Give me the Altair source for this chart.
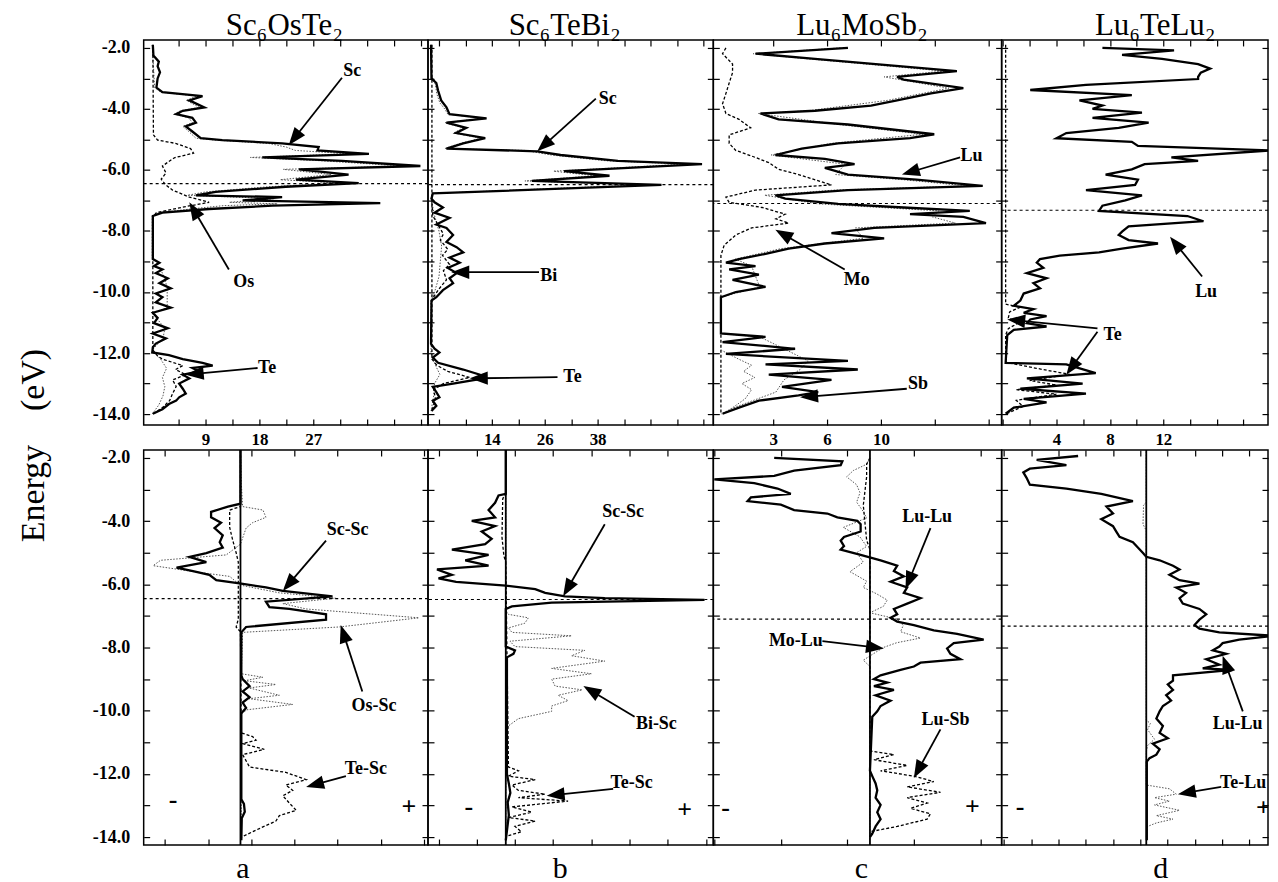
import math
import altair as alt
import pandas as pd

SERIF = "Liberation Serif"

# ---------------- layout / labels ----------------
TITLES = ["Sc\u2086OsTe\u2082", "Sc\u2086TeBi\u2082", "Lu\u2086MoSb\u2082", "Lu\u2086TeLu\u2082"]
TITLE_DX = [-1.5, -6, 4.5, 20.5]
LETTERS = ["a", "b", "c", "d"]
LETTER_X = [99, 132, 148, 159]
E_FERMI = [-6.45, -6.48, -7.10, -7.32]
ENERGY_TICKS = list(range(-14, -1))
TOP_Y_DOMAIN = [-14.36, -1.74]
BOT_Y_DOMAIN = [-14.25, -1.75]
PANEL_W = [285, 286, 289, 267]
TOP_H = 386
BOT_H = 396

TOP_X_DOMAIN = [[-1.33, 46.17], [-0.49, 64.26], [-0.37, 17.47], [-0.10, 19.83]]
TOP_X_TICKS = [[4.5, 9, 13.5, 18, 22.5, 27, 31.5, 36, 40.5, 45],
               [2, 8, 14, 20, 26, 32, 38, 44, 50, 56, 62],
               [3.33, 6.67, 10, 13.33, 16.67],
               [0, 2, 4, 6, 8, 10, 12, 14, 16, 18]]
TOP_X_LABELS = [[(9, "9"), (18, "18"), (27, "27")],
                [(14, "14"), (26, "26"), (38, "38")],
                [(3.33, "3"), (6.67, "6"), (10, "10")],
                [(4, "4"), (8, "8"), (12, "12")]]
BOT_X_DOMAIN = [[-2.24, 4.34], [-2.035, 5.43], [-2.355, 1.98], [-5.305, 4.465]]
BOT_X_TICKS = [[-1.75, -0.75, 0.25, 1.25, 2.25, 3.25, 4.25],
               [-1.76, -0.76, 0.24, 1.24, 2.24, 3.24, 4.24, 5.24],
               [-2.34, -1.34, -0.34, 0.66, 1.66],
               [-5.22, -4.22, -3.22, -2.22, -1.22, -0.22, 0.78, 1.78, 2.78, 3.78]]

# ---------------- DOS data (energy eV, DOS) ----------------
TOP_A_TOTAL = [(-1.90, 0.2), (-2.25, 0.3), (-2.45, 1.2), (-2.60, 1.0), (-2.80, 1.4), (-3.00, 1.0), (-3.30, 0.8),
               (-3.45, 1.8), (-3.58, 8.5), (-3.72, 6.3), (-3.95, 8.8), (-4.06, 5.2), (-4.17, 4.1), (-4.29, 6.8),
               (-4.45, 7.4), (-4.57, 5.7), (-4.74, 6.8), (-4.96, 8.2), (-5.02, 11.8), (-5.13, 21.8), (-5.25, 27.9),
               (-5.36, 27.7), (-5.47, 36.3), (-5.59, 18.5), (-5.70, 31.8), (-5.87, 44.9), (-5.98, 24.6),
               (-6.15, 32.9), (-6.32, 24.1), (-6.43, 34.6), (-6.55, 22.4), (-6.72, 10.7), (-6.83, 7.4),
               (-6.89, 21.8), (-7.00, 15.2), (-7.09, 38.2), (-7.17, 20.2), (-7.28, 9.6), (-7.40, 1.8), (-7.51, 0.2),
               (-8.85, 0.2), (-8.92, 0.2), (-9.04, 1.3), (-9.15, 0.4), (-9.26, 1.8), (-9.38, 0.7), (-9.55, 2.7),
               (-9.71, 1.3), (-9.88, 3.2), (-10.05, 0.7), (-10.17, 1.8), (-10.34, 0.7), (-10.51, 3.2),
               (-10.68, 0.2), (-10.85, 1.0), (-11.02, 0.4), (-11.19, 2.7), (-11.36, 0.2), (-11.52, 2.4),
               (-11.69, 0.7), (-11.81, 0.2), (-11.98, 0.1), (-12.07, 2.9), (-12.20, 5.2), (-12.32, 8.5),
               (-12.41, 10.2), (-12.49, 6.8), (-12.60, 7.9), (-12.71, 5.2), (-12.83, 6.3), (-13.00, 4.6),
               (-13.17, 5.2), (-13.33, 5.7), (-13.45, 4.6), (-13.56, 4.1), (-13.67, 2.9), (-13.84, 1.8),
               (-13.99, 0.2)]
TOP_A_SC = [(-1.90, 0.1), (-3.30, 0.5), (-3.45, 1.5), (-3.58, 7.5), (-3.72, 5.8), (-3.95, 8.0), (-4.06, 4.8),
            (-4.17, 3.8), (-4.29, 6.2), (-4.45, 6.8), (-4.57, 5.2), (-4.74, 6.2), (-4.96, 7.4), (-5.02, 10.5),
            (-5.13, 19.5), (-5.25, 22.5), (-5.36, 24.0), (-5.47, 33.0), (-5.59, 16.5), (-5.70, 28.5),
            (-5.87, 42.0), (-5.98, 22.0), (-6.15, 30.0), (-6.32, 21.5), (-6.43, 31.5), (-6.55, 19.5),
            (-6.72, 9.0), (-6.83, 6.0), (-6.94, 20.5), (-7.06, 13.0), (-7.11, 21.0), (-7.17, 12.0), (-7.28, 6.5),
            (-7.40, 1.2), (-7.51, 0.1), (-8.90, 0.1), (-9.04, 1.0), (-9.15, 0.3), (-9.26, 1.5), (-9.55, 2.2),
            (-9.88, 2.6), (-10.51, 2.6), (-10.68, 0.1), (-11.19, 2.2), (-11.52, 1.9), (-11.90, 0.1),
            (-12.20, 1.5), (-12.50, 2.5), (-12.80, 1.8), (-13.10, 2.2), (-13.40, 1.9), (-13.70, 1.2),
            (-14.00, 0.1)]
TOP_A_OS = [(-1.90, 0.2), (-4.85, 0.3), (-5.02, 1.0), (-5.13, 4.0), (-5.30, 6.5), (-5.45, 7.0), (-5.60, 3.8),
            (-5.87, 1.8), (-6.10, 2.4), (-6.30, 1.6), (-6.50, 2.4), (-6.66, 3.5), (-6.89, 6.3), (-7.06, 9.6),
            (-7.20, 5.7), (-7.40, 0.8), (-7.55, 0.2), (-11.90, 0.2)]
TOP_A_TE = [(-11.90, 0.2), (-12.10, 1.0), (-12.20, 1.8), (-12.41, 5.2), (-12.54, 4.0), (-12.71, 5.7),
            (-12.88, 3.5), (-13.10, 4.1), (-13.33, 3.5), (-13.56, 3.0), (-13.79, 1.8), (-14.00, 0.2)]

TOP_B_TOTAL = [(-1.90, 0.2), (-3.00, 0.3), (-3.15, 1.4), (-3.40, 1.8), (-3.72, 2.5), (-3.95, 3.7), (-4.17, 4.4),
               (-4.31, 12.8), (-4.45, 3.7), (-4.62, 8.2), (-4.79, 5.9), (-4.96, 12.5), (-5.13, 7.5), (-5.30, 3.7),
               (-5.39, 24.3), (-5.51, 29.6), (-5.70, 42.6), (-5.81, 61.7), (-6.04, 30.4), (-6.19, 40.7),
               (-6.36, 23.1), (-6.49, 52.5), (-6.77, 0.6), (-6.94, 0.3), (-7.06, 1.0), (-7.23, 2.9), (-7.40, 1.0),
               (-7.57, 4.4), (-7.79, 1.4), (-7.90, 3.7), (-8.13, 5.2), (-8.36, 3.7), (-8.53, 6.0), (-8.70, 7.5),
               (-8.87, 4.4), (-9.04, 6.7), (-9.21, 4.0), (-9.38, 6.0), (-9.55, 4.4), (-9.71, 5.2), (-9.94, 2.9),
               (-10.17, 1.4), (-10.28, 0.3), (-11.70, 0.2), (-11.86, 1.0), (-11.98, 2.1), (-12.15, 0.6),
               (-12.32, 1.8), (-12.54, 7.5), (-12.71, 11.3), (-12.83, 12.1), (-13.00, 5.2), (-13.11, 0.6),
               (-13.28, 1.4), (-13.45, 2.1), (-13.56, 0.6), (-13.73, 1.4), (-13.90, 0.3)]
TOP_B_SC = [(-1.90, 0.1), (-2.90, 0.3), (-3.20, 1.2), (-3.50, 1.5), (-3.80, 2.2), (-4.00, 3.3), (-4.17, 4.0),
            (-4.31, 11.8), (-4.45, 3.3), (-4.62, 7.5), (-4.79, 5.3), (-4.96, 11.5), (-5.13, 6.8), (-5.30, 3.3),
            (-5.36, 21.5), (-5.51, 27.5), (-5.70, 40.0), (-5.81, 58.0), (-6.04, 28.0), (-6.19, 37.5),
            (-6.36, 21.5), (-6.49, 48.0), (-6.77, 0.4), (-7.00, 0.3), (-7.50, 1.0), (-8.00, 2.0), (-8.50, 2.6),
            (-9.00, 2.3), (-9.50, 2.0), (-10.00, 1.0), (-10.30, 0.2), (-12.00, 0.2), (-12.40, 1.2),
            (-12.70, 2.2), (-13.00, 1.0), (-13.40, 0.8), (-13.90, 0.2)]
TOP_B_BI = [(-6.90, 0.3), (-7.50, 0.6), (-7.80, 1.8), (-8.10, 3.0), (-8.30, 2.3), (-8.60, 4.0), (-8.80, 2.8),
            (-9.10, 4.4), (-9.30, 3.0), (-9.60, 3.7), (-9.90, 2.0), (-10.20, 0.6), (-10.40, 0.2)]
TOP_B_TE = [(-1.90, 0.4), (-12.20, 0.4), (-12.40, 1.5), (-12.60, 4.0), (-12.80, 9.0), (-13.00, 3.0),
            (-13.20, 0.8), (-13.50, 1.2), (-13.90, 0.4)]

TOP_C_TOTAL = [(-2.00, 7.96), (-2.19, 2.24), (-2.36, 5.92), (-2.76, 14.7), (-2.95, 11.0), (-3.04, 11.4),
               (-3.32, 15.1), (-3.49, 13.1), (-3.72, 11.0), (-3.89, 9.39), (-4.06, 5.92), (-4.15, 2.55),
               (-4.34, 3.67), (-4.51, 7.96), (-4.83, 13.3), (-4.96, 11.8), (-5.13, 7.35), (-5.30, 5.10),
               (-5.51, 3.47), (-5.64, 6.53), (-5.81, 8.37), (-5.93, 6.53), (-6.15, 7.96), (-6.32, 12.2),
               (-6.52, 16.3), (-6.66, 7.96), (-6.83, 3.47), (-6.94, 4.08), (-7.11, 7.35), (-7.23, 11.4),
               (-7.34, 15.5), (-7.45, 11.8), (-7.54, 15.1), (-7.74, 16.5), (-7.90, 9.59), (-8.07, 6.94),
               (-8.24, 10.2), (-8.41, 6.53), (-8.58, 4.29), (-8.75, 2.86), (-8.92, 1.22), (-9.04, 0.41),
               (-9.15, 2.24), (-9.26, 0.61), (-9.43, 2.45), (-9.60, 0.82), (-9.83, 2.86), (-10.00, 1.02),
               (-10.17, 0.10), (-11.36, 0.10), (-11.47, 2.86), (-11.64, 0.20), (-11.86, 4.69), (-12.03, 0.41),
               (-12.26, 7.96), (-12.37, 2.86), (-12.54, 8.57), (-12.71, 3.06), (-12.88, 6.94), (-13.11, 3.88),
               (-13.28, 6.12), (-13.39, 4.90), (-13.56, 2.45), (-13.79, 1.22), (-13.99, 0.20)]
TOP_C_LU = [(-2.00, 7.5), (-2.19, 2.1), (-2.36, 5.5), (-2.76, 13.9), (-2.95, 10.2), (-3.32, 14.2), (-3.72, 10.4),
            (-4.06, 5.5), (-4.15, 2.4), (-4.51, 7.4), (-4.83, 12.6), (-5.13, 6.9), (-5.51, 3.2), (-5.81, 7.8),
            (-6.15, 7.2), (-6.32, 11.4), (-6.52, 15.3), (-6.66, 7.1), (-6.83, 2.8), (-7.11, 6.1), (-7.34, 13.6),
            (-7.54, 13.2), (-7.74, 14.6), (-7.90, 8.4), (-8.24, 8.9), (-8.58, 3.8), (-8.92, 1.0), (-9.15, 2.0),
            (-9.43, 2.2), (-9.83, 2.5), (-10.17, 0.1), (-11.36, 0.1), (-11.47, 2.5), (-11.86, 4.0),
            (-12.26, 5.5), (-12.54, 5.0), (-12.88, 4.0), (-13.28, 3.5), (-13.79, 0.9), (-14.00, 0.1)]
TOP_C_MO = [(-2.00, 0.41), (-2.19, 0.20), (-2.53, 0.82), (-2.81, 0.82), (-3.15, 0.61), (-3.49, 0.41),
            (-3.83, 0.20), (-4.15, 0.41), (-4.34, 1.22), (-4.62, 1.94), (-4.85, 0.61), (-5.13, 0.61),
            (-5.36, 1.02), (-5.59, 2.24), (-5.76, 3.06), (-5.98, 3.67), (-6.15, 4.90), (-6.49, 6.94),
            (-6.66, 2.24), (-6.89, 0.41), (-7.06, 0.61), (-7.23, 2.65), (-7.45, 4.08), (-7.60, 3.50),
            (-7.74, 4.29), (-7.90, 2.00), (-8.13, 1.02), (-8.47, 0.30), (-8.80, 0.10), (-14.00, 0.10)]
TOP_C_SB = [(-11.90, 0.1), (-12.20, 1.2), (-12.40, 2.0), (-12.60, 1.5), (-12.80, 2.2), (-13.00, 1.4),
            (-13.20, 2.0), (-13.50, 1.6), (-13.80, 0.8), (-14.00, 0.2)]

TOP_D_TOTAL = [(-2.00, 7.44), (-2.08, 12.8), (-2.23, 8.91), (-2.36, 11.9), (-2.53, 14.6), (-2.68, 15.5),
               (-2.81, 14.8), (-2.95, 14.6), (-3.02, 14.6), (-3.21, 6.21), (-3.38, 2.04), (-3.55, 9.64),
               (-3.72, 5.72), (-3.89, 7.44), (-4.00, 6.70), (-4.12, 10.4), (-4.29, 6.70), (-4.45, 10.9),
               (-4.62, 8.66), (-4.79, 4.74), (-4.96, 4.00), (-5.08, 9.64), (-5.21, 10.1), (-5.36, 20.0),
               (-5.59, 12.6), (-5.70, 14.6), (-5.81, 10.6), (-5.98, 9.64), (-6.15, 7.68), (-6.32, 10.1),
               (-6.49, 9.89), (-6.66, 6.21), (-6.83, 10.4), (-7.00, 9.15), (-7.17, 7.44), (-7.34, 7.19),
               (-7.51, 13.8), (-7.68, 15.0), (-7.85, 9.40), (-8.02, 8.91), (-8.13, 8.66), (-8.30, 9.40),
               (-8.41, 11.6), (-8.58, 8.91), (-8.70, 7.19), (-8.81, 4.25), (-8.92, 2.77), (-9.04, 2.53),
               (-9.21, 3.02), (-9.38, 1.79), (-9.55, 3.26), (-9.71, 2.28), (-9.88, 2.77), (-10.05, 1.55),
               (-10.28, 1.30), (-10.45, 0.81), (-10.56, 2.28), (-10.68, 1.55), (-10.79, 3.26), (-10.90, 2.04),
               (-11.02, 1.79), (-11.13, 3.26), (-11.24, 0.81), (-11.41, 0.32), (-12.32, 0.20), (-12.37, 4.74),
               (-12.66, 6.94), (-12.83, 1.79), (-13.00, 5.96), (-13.17, 1.30), (-13.33, 6.21), (-13.50, 1.55),
               (-13.62, 3.26), (-13.79, 0.81), (-13.99, 0.20)]
TOP_D_TE = [(-1.90, 0.2), (-10.40, 0.2), (-10.50, 1.3), (-10.65, 0.5), (-10.85, 0.4), (-11.00, 1.2),
            (-11.20, 0.4), (-11.40, 0.2), (-12.30, 0.2), (-12.50, 2.5), (-12.70, 5.0), (-12.90, 2.0),
            (-13.05, 4.0), (-13.20, 1.0), (-13.35, 4.0), (-13.55, 1.0), (-13.75, 1.5), (-14.00, 0.2)]

# ---------------- COHP data (energy eV, COHP) ----------------
BOT_A_SCSC = [(-1.75, 0.0), (-3.45, 0.0), (-3.54, -0.29), (-3.71, -0.68), (-3.88, -0.68), (-4.05, -0.45),
              (-4.22, -0.60), (-4.45, -0.41), (-4.67, -0.48), (-4.84, -0.41), (-5.01, -0.79), (-5.13, -1.18),
              (-5.30, -0.79), (-5.47, -1.48), (-5.58, -1.10), (-5.70, -0.72), (-5.87, -0.56), (-5.98, 0.02),
              (-6.10, 0.59), (-6.21, 0.98), (-6.38, 2.13), (-6.55, 0.59), (-6.72, 0.67), (-6.78, 1.13),
              (-6.95, 1.98), (-7.12, 1.98), (-7.35, 0.13), (-7.52, 0.02), (-8.88, 0.02), (-9.00, 0.05),
              (-9.22, 0.21), (-9.39, 0.05), (-9.57, 0.21), (-9.74, 0.05), (-9.91, 0.13), (-10.08, 0.02),
              (-12.80, 0.02), (-12.95, 0.08), (-13.20, 0.10), (-13.40, 0.03), (-14.10, 0.02)]
BOT_A_OSSC = [(-1.75, 0.0), (-2.80, 0.02), (-3.54, 0.05), (-3.65, 0.52), (-3.88, 0.59), (-4.05, 0.28),
              (-4.22, 0.13), (-4.73, 0.0), (-5.07, -0.33), (-5.24, -1.85), (-5.41, -2.02), (-5.58, -1.18),
              (-5.75, -0.25), (-5.92, -0.10), (-6.04, 0.05), (-6.27, 0.90), (-6.44, 2.20), (-6.61, 0.98),
              (-6.78, 1.52), (-7.06, 4.13), (-7.35, 2.28), (-7.52, 0.05), (-8.83, 0.02), (-8.94, 0.52),
              (-9.05, 0.10), (-9.17, 0.82), (-9.28, 0.20), (-9.51, 0.90), (-9.62, 0.20), (-9.80, 1.21),
              (-9.97, 0.15), (-10.10, 0.02), (-14.10, 0.02)]
BOT_A_TESC = [(-1.75, 0.0), (-3.54, 0.0), (-3.65, -0.25), (-4.20, -0.25), (-4.60, -0.18), (-5.00, -0.10),
              (-5.30, -0.05), (-7.10, -0.05), (-7.35, -0.10), (-7.50, 0.0), (-10.70, 0.02), (-10.82, 0.28),
              (-10.93, 0.36), (-11.04, 0.05), (-11.22, 0.55), (-11.39, 0.05), (-11.78, 0.21), (-11.95, 1.05),
              (-12.18, 1.52), (-12.35, 1.05), (-12.52, 1.21), (-12.69, 0.98), (-12.92, 1.13), (-13.15, 1.29),
              (-13.32, 0.90), (-13.49, 0.82), (-13.72, 0.45), (-14.00, 0.02)]

BOT_B_SCSC = [(-1.75, 0.0), (-3.14, 0.0), (-3.19, -0.19), (-3.42, -0.28), (-3.65, -0.45), (-3.88, -0.28),
              (-3.99, -0.89), (-4.16, -0.28), (-4.33, -0.63), (-4.56, -0.37), (-4.73, -0.54), (-4.90, -1.41),
              (-5.07, -0.45), (-5.24, -1.06), (-5.41, -0.45), (-5.53, -1.80), (-5.70, -1.41), (-5.81, -1.76),
              (-5.92, -1.30), (-6.04, 0.0), (-6.15, 0.77), (-6.27, 1.03), (-6.38, 1.55), (-6.44, 2.59),
              (-6.49, 5.20), (-6.58, 1.20), (-6.70, 0.16), (-6.78, 0.0), (-7.97, 0.0), (-8.09, 0.24),
              (-8.20, 0.20), (-8.31, 0.03), (-12.00, 0.03), (-12.30, 0.08), (-12.60, 0.12), (-12.90, 0.05),
              (-13.30, 0.08), (-14.10, 0.0)]
BOT_B_BISC = [(-1.75, 0.0), (-6.84, 0.0), (-6.95, 0.07), (-7.06, 0.59), (-7.23, 0.50), (-7.38, 0.07),
              (-7.52, 0.16), (-7.63, 1.72), (-7.80, 0.11), (-7.97, 0.24), (-8.09, 2.07), (-8.26, 1.72),
              (-8.43, 2.59), (-8.66, 1.20), (-8.83, 2.24), (-9.00, 1.20), (-9.22, 1.29), (-9.34, 2.00),
              (-9.51, 1.37), (-9.68, 1.63), (-9.85, 1.20), (-10.02, 1.20), (-10.25, 0.33), (-10.48, 0.07),
              (-10.70, 0.0), (-14.10, 0.0)]
BOT_B_TESC = [(-3.10, 0.0), (-3.30, -0.08), (-4.50, -0.10), (-5.10, -0.05), (-5.30, 0.0), (-11.78, 0.07),
              (-11.90, 0.33), (-12.07, 0.07), (-12.18, 0.77), (-12.35, 0.16), (-12.52, 0.33), (-12.64, 1.03),
              (-12.75, 0.33), (-12.86, 1.63), (-13.04, 0.16), (-13.21, 0.68), (-13.38, 0.07), (-13.49, 0.77),
              (-13.66, 0.24), (-13.83, 0.41), (-13.95, 0.07)]

BOT_C_LULU = [(-2.00, -1.44), (-2.11, -0.415), (-2.23, -0.44), (-2.40, -1.14), (-2.57, -1.44), (-2.68, -2.34),
              (-2.80, -1.74), (-2.97, -1.39), (-3.14, -1.19), (-3.25, -1.79), (-3.37, -1.84), (-3.48, -1.34),
              (-3.65, -1.14), (-3.76, -0.64), (-3.88, -0.49), (-3.99, -0.19), (-4.10, -0.14), (-4.33, -0.14),
              (-4.50, -0.39), (-4.62, -0.44), (-4.79, -0.39), (-4.90, -0.44), (-5.07, -0.14), (-5.24, 0.16),
              (-5.41, 0.41), (-5.58, 0.36), (-5.75, 0.51), (-5.92, 0.31), (-6.10, 0.56), (-6.27, 0.51),
              (-6.44, 0.76), (-6.61, 0.56), (-6.78, 0.36), (-6.95, 0.41), (-7.06, 0.31), (-7.18, 0.41),
              (-7.29, 0.66), (-7.46, 0.96), (-7.57, 1.31), (-7.75, 1.71), (-7.86, 1.26), (-8.03, 1.16),
              (-8.20, 1.21), (-8.37, 1.36), (-8.48, 0.76), (-8.60, 0.66), (-8.71, 0.46), (-8.88, 0.16),
              (-9.00, 0.06), (-9.11, 0.26), (-9.22, 0.06), (-9.34, 0.36), (-9.51, 0.085), (-9.68, 0.31),
              (-9.85, 0.16), (-10.02, 0.11), (-10.19, 0.035), (-11.90, 0.0), (-12.07, 0.035), (-12.30, 0.085),
              (-12.52, 0.11), (-12.75, 0.085), (-12.98, 0.16), (-13.21, 0.11), (-13.43, 0.16), (-13.66, 0.085),
              (-13.89, 0.035), (-14.00, 0.0)]
BOT_C_MOLU = [(-2.00, 0.0), (-2.20, -0.05), (-2.40, -0.25), (-2.60, -0.35), (-2.85, -0.20), (-3.10, -0.15),
              (-3.40, -0.20), (-3.70, -0.10), (-3.90, -0.05), (-4.20, -0.40), (-4.50, -0.15), (-4.80, -0.05),
              (-5.00, -0.20), (-5.30, -0.10), (-5.60, -0.30), (-5.90, -0.05), (-6.10, -0.10), (-6.30, 0.10),
              (-6.50, 0.26), (-6.70, 0.20), (-6.90, 0.0), (-7.10, 0.41), (-7.30, 0.50), (-7.50, 0.46),
              (-7.70, 0.76), (-7.85, 0.40), (-8.00, 0.20), (-8.20, 0.05), (-8.40, -0.10), (-8.60, 0.0),
              (-14.10, 0.0)]
BOT_C_LUSB = [(-2.00, 0.0), (-2.20, -0.05), (-2.60, -0.05), (-3.50, -0.10), (-4.60, -0.05), (-4.90, 0.0),
              (-11.27, 0.0), (-11.39, 0.36), (-11.55, 0.06), (-11.73, 0.56), (-11.90, 0.16), (-12.07, 0.66),
              (-12.24, 0.96), (-12.41, 0.56), (-12.58, 1.06), (-12.75, 0.56), (-12.92, 0.86), (-13.09, 0.61),
              (-13.26, 0.91), (-13.43, 0.86), (-13.66, 0.41), (-13.83, 0.0)]

BOT_D_LULU = [(-1.94, -2.50), (-2.06, -4.02), (-2.23, -2.93), (-2.34, -4.27), (-2.46, -4.51), (-2.63, -4.39),
              (-2.85, -4.27), (-2.97, -2.93), (-3.14, -1.65), (-3.37, -0.49), (-3.54, -1.46), (-3.76, -1.22),
              (-3.94, -1.65), (-4.16, -1.22), (-4.33, -1.10), (-4.50, -0.98), (-4.67, -0.49), (-4.90, -0.24),
              (-5.01, -0.12), (-5.13, 0.0), (-5.24, 0.49), (-5.41, 0.98), (-5.53, 1.22), (-5.70, 0.85),
              (-5.87, 1.22), (-5.98, 1.95), (-6.10, 1.10), (-6.27, 1.46), (-6.44, 1.22), (-6.61, 1.34),
              (-6.78, 1.95), (-6.95, 2.20), (-7.12, 1.95), (-7.29, 1.77), (-7.40, 1.95), (-7.52, 2.68),
              (-7.63, 4.68), (-7.75, 3.41), (-7.86, 2.80), (-7.97, 2.68), (-8.09, 2.44), (-8.20, 2.93),
              (-8.37, 2.20), (-8.54, 2.68), (-8.66, 2.07), (-8.71, 3.17), (-8.88, 0.98), (-9.05, 0.98),
              (-9.17, 0.79), (-9.34, 0.98), (-9.51, 0.73), (-9.68, 0.91), (-9.85, 0.61), (-10.02, 0.49),
              (-10.25, 0.37), (-10.48, 0.61), (-10.70, 0.49), (-10.87, 0.79), (-11.04, 0.24), (-11.22, 0.49),
              (-11.39, 0.37), (-11.50, 0.12), (-11.61, 0.02), (-14.10, 0.02)]
BOT_D_TELU = [(-1.80, 0.0), (-3.40, 0.0), (-3.50, -0.10), (-4.10, -0.12), (-4.30, 0.0), (-10.30, 0.0),
              (-10.40, 0.15), (-10.60, 0.05), (-10.90, 0.30), (-11.10, 0.05), (-11.30, 0.0), (-12.35, 0.0),
              (-12.47, 0.85), (-12.64, 1.10), (-12.75, 0.30), (-12.86, 0.85), (-12.98, 0.30), (-13.15, 1.22),
              (-13.32, 0.37), (-13.43, 0.98), (-13.55, 0.37), (-13.66, 0.05), (-14.00, 0.0)]

# ---------------- annotations (label, x, energy) and arrows (x0, E0, x1, E1) ----------------
TOP_LABELS = [[("Sc", 33.5, -2.76), ("Os", 15.4, -9.66), ("Te", 19.3, -12.49)],
              [("Sc", 40.3, -3.66), ("Bi", 26.9, -9.49), ("Te", 32.3, -12.77)],
              [("Lu", 15.6, -5.53), ("Mo", 8.5, -9.60), ("Sb", 12.3, -13.0)],
              [("Lu", 15.2, -10.0), ("Te", 8.2, -11.41)]]
TOP_ARROWS = [[(31.8, -2.98, 22.9, -5.19), (12.9, -9.26, 6.3, -7.06), (17.7, -12.49, 5.7, -12.71)],
              [(37.6, -3.66, 24.3, -5.39), (24.7, -9.35, 4.8, -9.35), (28.9, -12.79, 9.0, -12.83)],
              [(14.9, -5.59, 11.3, -6.15), (7.76, -9.26, 3.47, -7.96), (11.6, -13.17, 5.0, -13.45)],
              [(14.9, -9.49, 12.5, -8.19), (7.07, -11.19, 0.32, -10.90), (7.07, -11.30, 4.74, -12.71)]]
BOT_LABELS = [[("Sc-Sc", 2.48, -4.28), ("Os-Sc", 3.09, -9.85), ("Te-Sc", 2.90, -11.84)],
              [("Sc-Sc", 3.07, -3.71), ("Bi-Sc", 3.94, -10.42), ("Te-Sc", 3.29, -12.30)],
              [("Lu-Lu", 0.86, -3.88), ("Mo-Lu", -1.115, -7.80), ("Lu-Sb", 1.135, -10.30)],
              [("Lu-Lu", 3.35, -10.42), ("Te-Lu", 3.55, -12.30)]]
BOT_ARROWS = [[(1.98, -4.62, 0.98, -6.21), (2.82, -9.39, 2.32, -7.29), (2.44, -12.07, 1.52, -12.41)],
              [(2.59, -4.10, 1.50, -6.38), (3.37, -10.19, 2.03, -9.22), (2.81, -12.47, 1.07, -12.69)],
              [(0.91, -4.22, 0.535, -6.15), (-0.715, -7.80, 0.21, -8.03), (1.06, -10.59, 0.66, -12.13)],
              [(3.54, -10.02, 2.80, -8.26), (2.75, -12.41, 1.16, -12.64)]]
SIGNS = [[("-", -1.56, -12.81), ("+", 3.9, -13.04)],
         [("-", -0.97, -13.04), ("+", 4.68, -13.15)],
         [("-", -2.17, -13.09), ("+", 1.54, -13.04)],
         [("-", -4.63, -13.04), ("+", 4.30, -13.09)]]

TOP_SERIES = [
    [(TOP_A_SC, "dot"), (TOP_A_OS, "dash"), (TOP_A_TE, "dash"), (TOP_A_TOTAL, "thick")],
    [(TOP_B_SC, "dot"), (TOP_B_BI, "dash"), (TOP_B_TE, "dash"), (TOP_B_TOTAL, "thick")],
    [(TOP_C_LU, "dot"), (TOP_C_MO, "dash"), (TOP_C_SB, "dot"), (TOP_C_TOTAL, "thick")],
    [(TOP_D_TE, "dash"), (TOP_D_TOTAL, "thick")],
]
BOT_SERIES = [
    [(BOT_A_OSSC, "dot"), (BOT_A_TESC, "dash"), (BOT_A_SCSC, "thick")],
    [(BOT_B_BISC, "dot"), (BOT_B_TESC, "dash"), (BOT_B_SCSC, "thick")],
    [(BOT_C_MOLU, "dot"), (BOT_C_LUSB, "dash"), (BOT_C_LULU, "thick")],
    [(BOT_D_TELU, "dot"), (BOT_D_LULU, "thick")],
]

STYLE = {
    "thick": dict(color="black", strokeWidth=2.3),
    "dot": dict(color="#555555", strokeWidth=1.0, strokeDash=[1.5, 1.5]),
    "dash": dict(color="black", strokeWidth=1.3, strokeDash=[3, 2]),
}
TRI = "M0,-1L0.75,1L-0.75,1Z"
HEAD_SIZE = 324
HEAD_HALF = 9.0
TICK = 6


def line_df(points):
    return pd.DataFrame({"E": [p[0] for p in points], "v": [p[1] for p in points],
                         "i": list(range(len(points)))})


def label_expr(pairs):
    parts = [f"abs(datum.value - ({v})) < 0.01 ? '{t}'" for v, t in pairs]
    return " : ".join(parts) + " : ''"


Y_LABEL_EXPR = "datum.value % 2 == 0 ? '-' + format(abs(datum.value), '.1f') : ''"


def arrow_df(arrows, xdom, ydom, width, height):
    ppx = width / (xdom[1] - xdom[0])
    ppe = height / (ydom[1] - ydom[0])
    rows = []
    for x0, e0, x1, e1 in arrows:
        dx = (x1 - x0) * ppx
        dy = -(e1 - e0) * ppe
        L = math.hypot(dx, dy)
        ux, uy = dx / L, dy / L
        hx = x1 - ux * HEAD_HALF / ppx
        he = e1 + uy * HEAD_HALF / ppe
        ang = math.degrees(math.atan2(ux, -uy)) % 360
        rows.append(dict(x0=x0, E0=e0, hx=hx, hE=he, ang=ang))
    return pd.DataFrame(rows)


def panel(k, series, xdom, width, height, xticks, top_row):
    ydom = TOP_Y_DOMAIN if top_row else BOT_Y_DOMAIN
    xs = alt.Scale(domain=xdom, nice=False, zero=False)
    ys = alt.Scale(domain=ydom, nice=False, zero=False)
    layers = []
    main_pts = series[-1][0]
    for pts, st in series[:-1]:
        layers.append(alt.Chart(line_df(pts)).mark_line(clip=True, **STYLE[st]).encode(
            x=alt.X("v:Q", scale=xs, axis=None),
            y=alt.Y("E:Q", scale=ys, axis=None),
            order="i:Q"))
    if top_row:
        xaxis = alt.Axis(orient="bottom", values=xticks, tickSize=TICK, offset=-TICK, domain=False, grid=False,
                         labelExpr=label_expr(TOP_X_LABELS[k]), labelFont=SERIF, labelFontWeight="bold",
                         labelFontSize=17, labelPadding=6, labelColor="black", title=None)
    else:
        xaxis = alt.Axis(orient="bottom", values=xticks, tickSize=TICK, offset=-TICK, domain=False, grid=False,
                         labels=False, title=LETTERS[k], titleFont=SERIF, titleFontSize=30,
                         titleFontWeight="normal", titleX=LETTER_X[k], titleY=39, titleAlign="center",
                         titleBaseline="alphabetic", titleColor="black")
    if k == 0:
        yaxis_kw = dict(labelExpr=Y_LABEL_EXPR, labelFont=SERIF, labelFontWeight="bold", labelFontSize=18,
                        labelPadding=14, labelColor="black")
        if top_row:
            yaxis_kw.update(title="Energy\u00a0\u00a0\u00a0\u00a0(eV)", titleFont=SERIF, titleFontSize=34,
                            titleFontWeight="normal", titleAngle=270, titleX=-116, titleY=406,
                            titleAlign="center", titleBaseline="middle", titleColor="black")
        else:
            yaxis_kw.update(title=None)
    else:
        yaxis_kw = dict(labels=False, title=None)
    yaxis = alt.Axis(orient="left", values=ENERGY_TICKS, tickSize=TICK, offset=-TICK, domain=False, grid=False,
                     **yaxis_kw)
    layers.append(alt.Chart(line_df(main_pts)).mark_line(clip=True, **STYLE["thick"]).encode(
        x=alt.X("v:Q", scale=xs, axis=xaxis),
        y=alt.Y("E:Q", scale=ys, axis=yaxis),
        order="i:Q"))
    layers.append(alt.Chart(line_df(main_pts)).mark_line(opacity=0, clip=True).encode(
        x=alt.X("v:Q", scale=xs, axis=alt.Axis(orient="top", values=xticks, tickSize=TICK, offset=-TICK,
                                               domain=False, grid=False, labels=False, title=None)),
        y=alt.Y("E:Q", scale=ys, axis=alt.Axis(orient="right", values=ENERGY_TICKS, tickSize=TICK,
                                               offset=-TICK, domain=False, grid=False, labels=False,
                                               title=None)),
        order="i:Q"))
    layers.append(alt.Chart(pd.DataFrame({"E": [E_FERMI[k]]})).mark_rule(
        color="black", strokeWidth=1.2, strokeDash=[3, 3], clip=True).encode(
        y=alt.Y("E:Q", scale=ys, axis=None)))
    if not top_row:
        layers.append(alt.Chart(pd.DataFrame({"v": [0.0]})).mark_rule(color="black", strokeWidth=1.8,
                                                                       clip=True).encode(
            x=alt.X("v:Q", scale=xs, axis=None)))
        sg = pd.DataFrame(SIGNS[k], columns=["label", "x", "E"])
        layers.append(alt.Chart(sg).mark_text(font=SERIF, fontWeight="bold", fontSize=26, color="black",
                                              clip=True).encode(
            x=alt.X("x:Q", scale=xs, axis=None), y=alt.Y("E:Q", scale=ys, axis=None), text="label:N"))
    labels = TOP_LABELS[k] if top_row else BOT_LABELS[k]
    arrows = TOP_ARROWS[k] if top_row else BOT_ARROWS[k]
    lab = pd.DataFrame(labels, columns=["label", "x", "E"])
    layers.append(alt.Chart(lab).mark_text(font=SERIF, fontWeight="bold", fontSize=18, color="black",
                                           clip=True).encode(
        x=alt.X("x:Q", scale=xs, axis=None), y=alt.Y("E:Q", scale=ys, axis=None), text="label:N"))
    adf = arrow_df(arrows, xdom, ydom, width, height)
    layers.append(alt.Chart(adf).mark_rule(color="black", strokeWidth=1.8, clip=True).encode(
        x=alt.X("x0:Q", scale=xs, axis=None), y=alt.Y("E0:Q", scale=ys, axis=None),
        x2="hx:Q", y2="hE:Q"))
    layers.append(alt.Chart(adf).mark_point(shape=TRI, filled=True, size=HEAD_SIZE, color="black",
                                             opacity=1, strokeWidth=0, clip=True).encode(
        x=alt.X("hx:Q", scale=xs, axis=None), y=alt.Y("hE:Q", scale=ys, axis=None),
        angle=alt.Angle("ang:Q", scale=None)))
    props = dict(width=width, height=height)
    if top_row:
        props["title"] = alt.TitleParams(TITLES[k], font=SERIF, fontSize=31, fontWeight="normal",
                                         anchor="middle", dx=TITLE_DX[k], offset=-3, color="black")
    return alt.layer(*layers).resolve_axis(x="independent", y="independent").properties(**props)


top_panels = [panel(k, TOP_SERIES[k], TOP_X_DOMAIN[k], PANEL_W[k], TOP_H, TOP_X_TICKS[k], True)
              for k in range(4)]
bot_panels = [panel(k, BOT_SERIES[k], BOT_X_DOMAIN[k], PANEL_W[k], BOT_H, BOT_X_TICKS[k], False)
              for k in range(4)]

chart = alt.concat(*top_panels, *bot_panels, columns=4, spacing={"row": 25, "column": 0},
                   bounds="flush").properties(
    padding={"left": 8, "top": 0, "right": 0, "bottom": 0},
    background="white",
).configure_view(stroke="black", strokeWidth=1.5).configure_axis(
    tickColor="black", tickWidth=1.2
)

chart.save("out.html", embed_options={"renderer": "svg", "actions": False})
